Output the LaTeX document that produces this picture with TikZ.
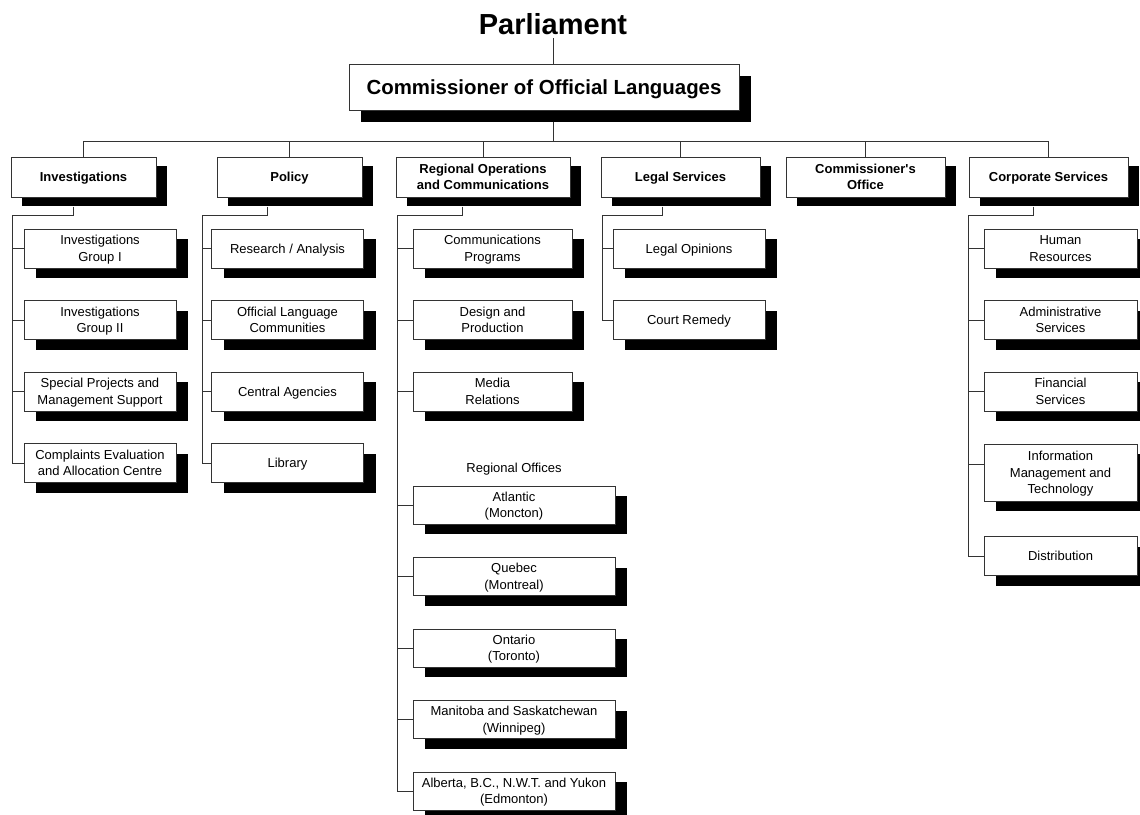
\documentclass[tikz,border=0pt]{standalone}
\usepackage{fontspec}
\setmainfont{Liberation Sans}
\usetikzlibrary{shadows,backgrounds}

\begin{document}
\begin{tikzpicture}[x=1pt, y=-1pt, node distance=71.5pt,
    link/.style={draw=black!80, line width=1pt},
    topbox/.style={draw=black!80, line width=1pt, fill=white, font=\bfseries\fontsize{20.4}{24}\selectfont,
        minimum width=390pt, minimum height=46pt, text depth=0pt,
        drop shadow={shadow xshift=12pt, shadow yshift=-12pt, opacity=1, fill=black}},
    headbox/.style={draw=black!80, line width=1pt, fill=white, font=\bfseries\fontsize{13}{16.5}\selectfont,
        align=center, minimum height=40pt, inner sep=2pt, text depth=0pt,
        drop shadow={shadow xshift=11pt, shadow yshift=-9pt, opacity=1, fill=black}},
    subbox/.style={draw=black!80, line width=1pt, fill=white, font=\fontsize{13}{16.5}\selectfont,
        align=center, minimum width=152pt, minimum height=39pt, inner sep=2pt, text depth=0pt,
        drop shadow={shadow xshift=12pt, shadow yshift=-10pt, opacity=1, fill=black}},
    ]
    \useasboundingbox (0,0) rectangle (1140,814);

    \node [font=\bfseries\fontsize{29}{32}\selectfont](p) at (553,24){Parliament};
    \node [topbox](0) at (544,87){Commissioner of Official Languages};

    % first level
    \node [headbox, minimum width=145pt](1) at (83.5,177){Investigations};
    \node [headbox, minimum width=145pt](2) at (289.5,177){Policy};
    \node [headbox, minimum width=174pt](3) at (483,177){Regional Operations\\and Communications};
    \node [headbox, minimum width=159pt](4) at (680.5,177){Legal Services};
    \node [headbox, minimum width=159pt](5) at (865.5,177){Commissioner\textquotesingle s\\Office};
    \node [headbox, minimum width=159pt](6) at (1048.5,177){Corporate Services};

    % investigations
    \node [subbox](11) [below of = 1, xshift = 16.5pt]{Investigations\\Group I};
    \node [subbox](12) [below of = 11]{Investigations\\Group II};
    \node [subbox](13) [below of = 12]{Special Projects and\\Management Support};
    \node [subbox](14) [below of = 13]{Complaints Evaluation\\and Allocation Centre};

    % policy
    \node [subbox](21) [below of = 2, xshift = -2pt]{Research / Analysis};
    \node [subbox](22) [below of = 21]{Official Language\\Communities};
    \node [subbox](23) [below of = 22]{Central Agencies};
    \node [subbox](24) [below of = 23]{Library};

    % regional operations
    \node [subbox, minimum width=159pt](31) [below of = 3, xshift = 9.5pt]{Communications\\Programs};
    \node [subbox, minimum width=159pt](32) [below of = 31]{Design and\\Production};
    \node [subbox, minimum width=159pt](33) [below of = 32]{Media\\Relations};
    \node [subbox, minimum width=202pt, minimum height=38pt](34) [below of = 33, xshift = 21.5pt, yshift = -42pt]{Atlantic\\(Moncton)};
    \node [subbox, minimum width=202pt, minimum height=38pt](35) [below of = 34]{Quebec\\(Montreal)};
    \node [subbox, minimum width=202pt, minimum height=38pt](36) [below of = 35]{Ontario\\(Toronto)};
    \node [subbox, minimum width=202pt, minimum height=38pt](37) [below of = 36]{Manitoba and Saskatchewan\\(Winnipeg)};
    \node [subbox, minimum width=202pt, minimum height=38pt](38) [below of = 37]{Alberta, B.C., N.W.T. and Yukon\\(Edmonton)};
    \node [font=\fontsize{13}{16.5}\selectfont](r) [above of = 34, node distance = 36pt]{Regional Offices};

    % legal services
    \node [subbox](41) [below of = 4, xshift = 8.5pt]{Legal Opinions};
    \node [subbox](42) [below of = 41]{Court Remedy};

    % corporate services
    \node [subbox, minimum width=153pt](61) [below of = 6, xshift = 12pt]{Human\\Resources};
    \node [subbox, minimum width=153pt](62) [below of = 61]{Administrative\\Services};
    \node [subbox, minimum width=153pt](63) [below of = 62]{Financial\\Services};
    \node [subbox, minimum width=153pt, minimum height=57pt](64) [below of = 63, yshift = -9.5pt]{Information\\Management and\\Technology};
    \node [subbox, minimum width=153pt](65) [below of = 64, yshift = -12pt]{Distribution};

    \begin{pgfonlayer}{background}
        \coordinate (bus) at (552,141);
        \coordinate (b1) at (12,215);
        \coordinate (b2) at (202,215);
        \coordinate (b3) at (397,215);
        \coordinate (b4) at (602,215);
        \coordinate (b6) at (968,215);

        \draw [link] (p.south) -- (p.south |- bus);
        \draw [link] (bus -| 1.north) -- (bus -| 6.north);
        \foreach \n in {1,...,6}
            \draw [link] (bus -| \n.north) -- (\n.north);

        \draw [link] ([xshift=-10.5pt, yshift=-9pt]1.south) |- (b1) |- (14.west);
        \foreach \n in {11,12,13}
            \draw [link] (b1) |- (\n.west);

        \draw [link] ([xshift=-22.5pt, yshift=-9pt]2.south) |- (b2) |- (24.west);
        \foreach \n in {21,22,23}
            \draw [link] (b2) |- (\n.west);

        \draw [link] ([xshift=-21pt, yshift=-9pt]3.south) |- (b3) |- (38.west);
        \foreach \n in {31,...,37}
            \draw [link] (b3) |- (\n.west);

        \draw [link] ([xshift=-18.5pt, yshift=-9pt]4.south) |- (b4) |- (42.west);
        \draw [link] (b4) |- (41.west);

        \draw [link] ([xshift=-15.5pt, yshift=-9pt]6.south) |- (b6) |- (65.west);
        \foreach \n in {61,62,63}
            \draw [link] (b6) |- (\n.west);
        \draw [link] (b6) |- ([yshift=8.5pt]64.west);
    \end{pgfonlayer}
\end{tikzpicture}
\end{document}
